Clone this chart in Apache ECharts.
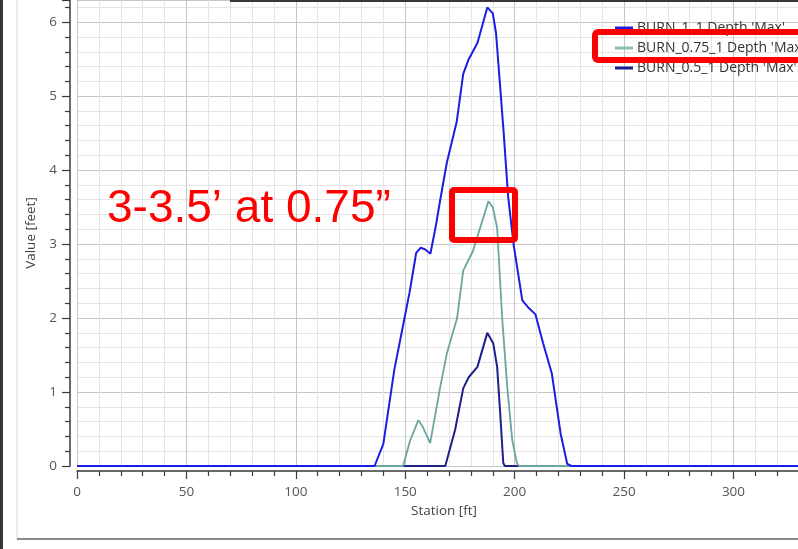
<!DOCTYPE html>
<html><head><meta charset="utf-8">
<script src="https://cdn.jsdelivr.net/npm/echarts@6/dist/echarts.min.js"></script>
<style>html,body{margin:0;padding:0;background:#fff;overflow:hidden;width:798px;height:549px}#c{width:821px;height:549px}</style>
</head><body><div id="c"></div>
<script>
const seriesNames = ["BURN_1_1 Depth 'Max'", "BURN_0.75_1 Depth 'Max'", "BURN_0.5_1 Depth 'Max'"];
const burn1Station = [0,136,140,145,149,152,155,157,159,161.5,164,166,169,173.5,176.5,179,183,187.5,190,191.5,195,197,199.5,203.5,206,209.5,213,217,221,224,226,340];
const burn1Depth   = [0,0,0.3,1.3,1.9,2.35,2.88,2.95,2.93,2.87,3.25,3.6,4.1,4.65,5.3,5.5,5.72,6.2,6.12,5.85,4.5,3.65,3.0,2.24,2.15,2.05,1.66,1.25,0.44,0.03,0,0];
const burn075Station = [0,149,152.3,156,158,161.4,166,169,173.7,176.5,181,188,190,192,194.3,196.6,198.9,201,202,340];
const burn075Depth   = [0,0,0.35,0.62,0.53,0.31,1.07,1.52,2.0,2.64,2.91,3.58,3.5,3.22,2.0,1.07,0.35,0.04,0,0];
const burn05Station = [0,168.3,172.8,176.5,179,183,187.5,190.2,192,193.4,194.8,195.5,340];
const burn05Depth   = [0,0,0.49,1.05,1.2,1.34,1.8,1.66,1.34,0.71,0.04,0,0];
const xTicks = {min:0, max:340, interval:50};
const yTicks = {min:0, max:6.3, interval:1};
const noteText = "3-3.5’ at 0.75”";

const pair = (xs, ys) => xs.map((x,i)=>[x, ys[i]]);
const chart = echarts.init(document.getElementById('c'));
const axisCol = '#3a3a3a', labCol = '#555';
const font = 'Open Sans';
chart.setOption({
  animation:false,
  grid:{left:77, right:0, top:-1.5, bottom:83, containLabel:false},
  xAxis:{type:'value', min:xTicks.min, max:xTicks.max, interval:xTicks.interval, offset:5,
    name:'Station [ft]', nameLocation:'middle', nameGap:33,
    nameTextStyle:{color:'#444', fontSize:13.5, fontFamily:font, padding:[0,10,0,0]},
    axisLine:{show:true, onZero:false, lineStyle:{color:axisCol, width:1.5}},
    axisTick:{show:true, length:8, lineStyle:{color:axisCol, width:1.2}},
    minorTick:{show:true, splitNumber:5, length:5, lineStyle:{color:axisCol, width:1.2}},
    splitLine:{show:true, lineStyle:{color:'#c6c6c6', width:1}},
    minorSplitLine:{show:true, lineStyle:{color:'#e4e4e4', width:1}},
    axisLabel:{color:labCol, fontSize:13.5, fontFamily:font, margin:14, showMaxLabel:false}
  },
  yAxis:{type:'value', min:yTicks.min, max:yTicks.max, interval:yTicks.interval, offset:7,
    name:'Value [feet]', nameLocation:'middle', nameGap:22, nameRotate:90,
    nameTextStyle:{color:'#444', fontSize:13.5, fontFamily:font},
    axisLine:{show:true, onZero:false, lineStyle:{color:axisCol, width:1.5}},
    axisTick:{show:true, length:8, lineStyle:{color:axisCol, width:1.2}},
    minorTick:{show:true, splitNumber:5, length:5, lineStyle:{color:axisCol, width:1.2}},
    splitLine:{show:true, lineStyle:{color:'#c6c6c6', width:1}},
    minorSplitLine:{show:true, lineStyle:{color:'#e4e4e4', width:1}},
    axisLabel:{color:labCol, fontSize:13.5, fontFamily:font, margin:13, showMaxLabel:false}
  },
  legend:{orient:'vertical', left:615, top:21, padding:0, itemGap:6, itemWidth:18, itemHeight:3,
    icon:'rect', textStyle:{color:'#333', fontSize:14, fontFamily:font, padding:[0,0,0,-1]},
    data:seriesNames},
  series:[
    {name:seriesNames[2], type:'line', data:pair(burn05Station, burn05Depth), showSymbol:false, z:2,
      lineStyle:{color:'#1e1e8c', width:2}, itemStyle:{color:'#1e1e8c'}},
    {name:seriesNames[1], type:'line', data:pair(burn075Station, burn075Depth), showSymbol:false, z:3,
      lineStyle:{color:'#6aa69e', width:1.8}, itemStyle:{color:'#8cbcb6'}},
    {name:seriesNames[0], type:'line', data:pair(burn1Station, burn1Depth), showSymbol:false, z:4,
      lineStyle:{color:'#1c1ce6', width:2}, itemStyle:{color:'#1c1ce6'}}
  ],
  graphic:[
    {type:'rect', shape:{x:0,y:0,width:3,height:549}, style:{fill:'#3b3631'}, z:100},
    {type:'line', shape:{x1:17,y1:0,x2:17,y2:539}, style:{stroke:'#d8d8d8', lineWidth:1}, z:100},
    {type:'line', shape:{x1:17,y1:539,x2:821,y2:539}, style:{stroke:'#8a8a8a', lineWidth:2}, z:100},
    {type:'rect', shape:{x:230,y:0,width:600,height:2}, style:{fill:'#3a3530'}, z:100},
    {type:'text', left:107, top:186, style:{text:noteText, fill:'#ff0000', font:'46px "Liberation Sans", Arial, sans-serif'}, z:100},
    {type:'rect', shape:{x:452,y:190,width:63,height:50, r:2}, style:{fill:'none', stroke:'#ff0000', lineWidth:6}, z:100},
    {type:'rect', shape:{x:595,y:32,width:240,height:28, r:3}, style:{fill:'none', stroke:'#ff0000', lineWidth:6}, z:100}
  ]
});
</script></body></html>
